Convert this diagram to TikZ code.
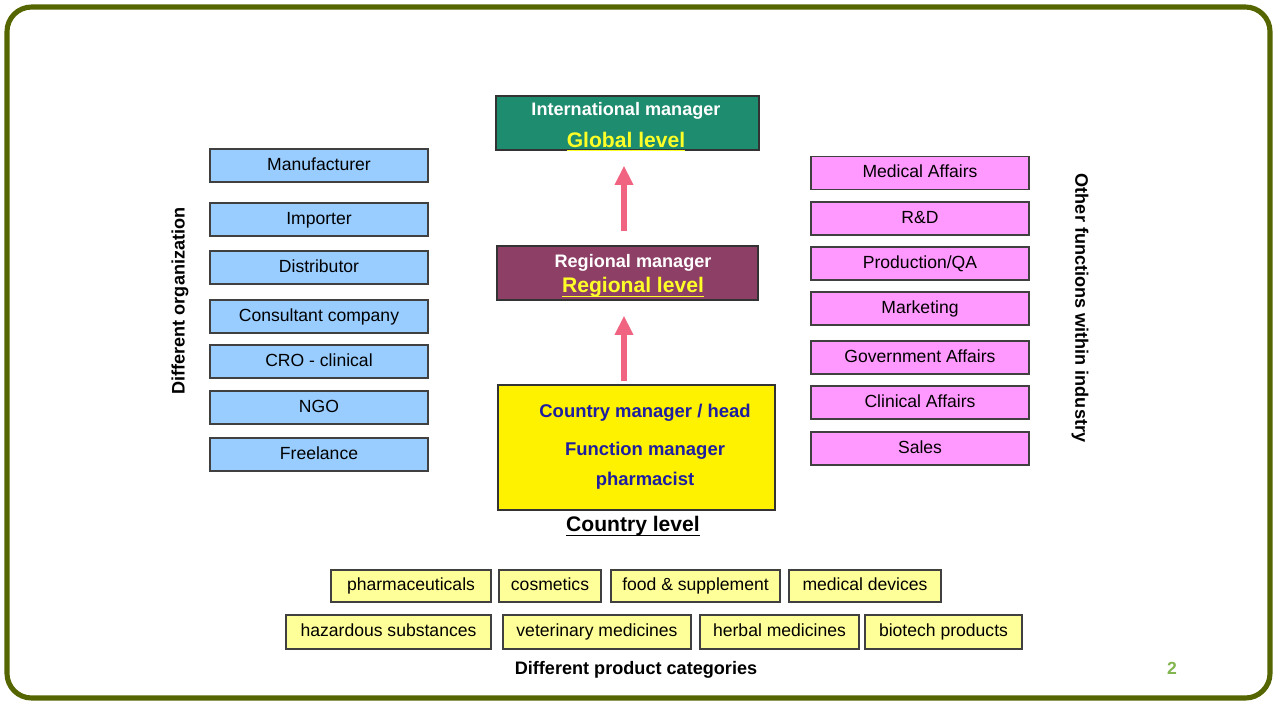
\documentclass[tikz,border=0pt]{standalone}
\usepackage{fontspec}
\setmainfont{Liberation Sans}
\usetikzlibrary{arrows.meta}

\definecolor{frameolive}{RGB}{85,102,0}
\definecolor{orgblue}{RGB}{153,204,255}
\definecolor{funcpink}{RGB}{255,153,255}
\definecolor{prodyellow}{RGB}{255,255,153}
\definecolor{globalgreen}{RGB}{30,140,110}
\definecolor{regionpurple}{RGB}{142,63,102}
\definecolor{levelyellow}{RGB}{255,255,40}
\definecolor{countrytext}{RGB}{30,30,160}
\definecolor{uparrowpink}{RGB}{240,100,130}
\definecolor{pagegreen}{RGB}{130,180,80}

\newcommand\levelline[1]{\underline{\raisebox{0pt}[\height][0.6pt]{#1}}}

\begin{document}
\begin{tikzpicture}[x=0.02cm, y=-0.02cm,
    box/.style={draw=black!75, line width=0.8pt, inner sep=0pt, text height=7.4pt, text depth=2pt, font=\fontsize{10}{12}\selectfont},
    orgbox/.style={box, fill=orgblue, minimum width=4.36cm, minimum height=0.66cm},
    funcbox/.style={box, fill=funcpink, minimum width=4.36cm, minimum height=0.66cm},
    prodbox/.style={box, fill=prodyellow, minimum height=0.66cm},
    levelbox/.style={draw=black!80, line width=0.8pt},
    leveltext/.style={align=center, font=\bfseries\fontsize{10.3}{12}\selectfont},
    sidetitle/.style={font=\bfseries\fontsize{10.3}{12}\selectfont},
    uparrow/.style={uparrowpink, line width=3.4pt, -{Triangle[length=11pt,width=10pt]}}]
        \useasboundingbox (0,0) rectangle (1274,701);
        \draw [frameolive, line width=2.9pt, rounded corners=14pt] (7,7) rectangle (1270,698);

        % levels
        \node [levelbox, fill=globalgreen, minimum width=5.26cm, minimum height=1.08cm] (global) at (627.5,123) {};
        \node [leveltext, text=white] (globaltxt) at (626,127)
            {International manager\\[6pt]{\color{levelyellow}\fontsize{12}{14}\selectfont\levelline{Global level}}};
        \node [levelbox, fill=regionpurple, minimum width=5.22cm, minimum height=1.08cm] (regional) at (627.5,273) {};
        \node [leveltext, text=white] (regionaltxt) at (633,276)
            {Regional manager\\[2pt]{\color{levelyellow}\fontsize{12}{14}\selectfont\levelline{Regional level}}};
        \node [levelbox, fill=yellow, minimum width=5.54cm, minimum height=2.5cm] (country) at (636.5,447.5) {};
        \node [leveltext, text=countrytext, font=\bfseries\fontsize{10.5}{12.6}\selectfont] (countrytxt) at (645,447)
            {Country manager / head\\[9pt]Function manager\\[4.5pt]pharmacist};
        \node [font=\bfseries\fontsize{12}{14}\selectfont] (countrylevel) at (633,526) {\levelline{Country level}};

        \coordinate (axis) at (624,0);
        \draw [uparrow, shorten <=8pt, shorten >=8.5pt] (regional.north -| axis) -- (global.south -| axis);
        \draw [uparrow, shorten <=1.7pt, shorten >=8.5pt] (country.north -| axis) -- (regional.south -| axis);

        % organizations
        \node [orgbox] (manufacturer) at (319,165.5) {Manufacturer};
        \node [orgbox] (importer) at (319,219.5) {Importer};
        \node [orgbox] (distributor) at (319,267.5) {Distributor};
        \node [orgbox] (consultant) at (319,316.5) {Consultant company};
        \node [orgbox] (cro) at (319,361.5) {CRO - clinical};
        \node [orgbox] (ngo) at (319,407.5) {NGO};
        \node [orgbox] (freelance) at (319,454.5) {Freelance};
        \node [sidetitle, rotate=90] (orgtitle) at (180,301) {Different organization};

        % functions
        \node [funcbox] (medical) at (920,173) {Medical Affairs};
        \node [funcbox] (rnd) at (920,218.5) {R\&D};
        \node [funcbox] (production) at (920,263.5) {Production/QA};
        \node [funcbox] (marketing) at (920,308.5) {Marketing};
        \node [funcbox] (government) at (920,357.5) {Government Affairs};
        \node [funcbox] (clinical) at (920,402.5) {Clinical Affairs};
        \node [funcbox] (sales) at (920,448.5) {Sales};
        \node [sidetitle, rotate=-90] (functitle) at (1080,308) {Other functions within industry};

        % product categories
        \node [prodbox, minimum width=3.2cm, minimum height=0.64cm] (pharma) at (411,586) {pharmaceuticals};
        \node [prodbox, minimum width=2.04cm, minimum height=0.64cm] (cosmetics) at (550,586) {cosmetics};
        \node [prodbox, minimum width=3.38cm, minimum height=0.64cm] (food) at (695.5,586) {food \& supplement};
        \node [prodbox, minimum width=3.04cm, minimum height=0.64cm] (devices) at (865,586) {medical devices};
        \node [prodbox, minimum width=4.1cm, minimum height=0.68cm] (hazardous) at (388.5,632) {hazardous substances};
        \node [prodbox, minimum width=3.76cm, minimum height=0.68cm] (veterinary) at (597,632) {veterinary medicines};
        \node [prodbox, minimum width=3.18cm, minimum height=0.68cm] (herbal) at (779.5,632) {herbal medicines};
        \node [prodbox, minimum width=3.14cm, minimum height=0.68cm] (biotech) at (943.5,632) {biotech products};
        \node [sidetitle] (prodtitle) at (636,670) {Different product categories};

        \node [text=pagegreen, font=\bfseries\fontsize{10}{12}\selectfont] (pagenum) at (1172,668) {2};
    \end{tikzpicture}
\end{document}
